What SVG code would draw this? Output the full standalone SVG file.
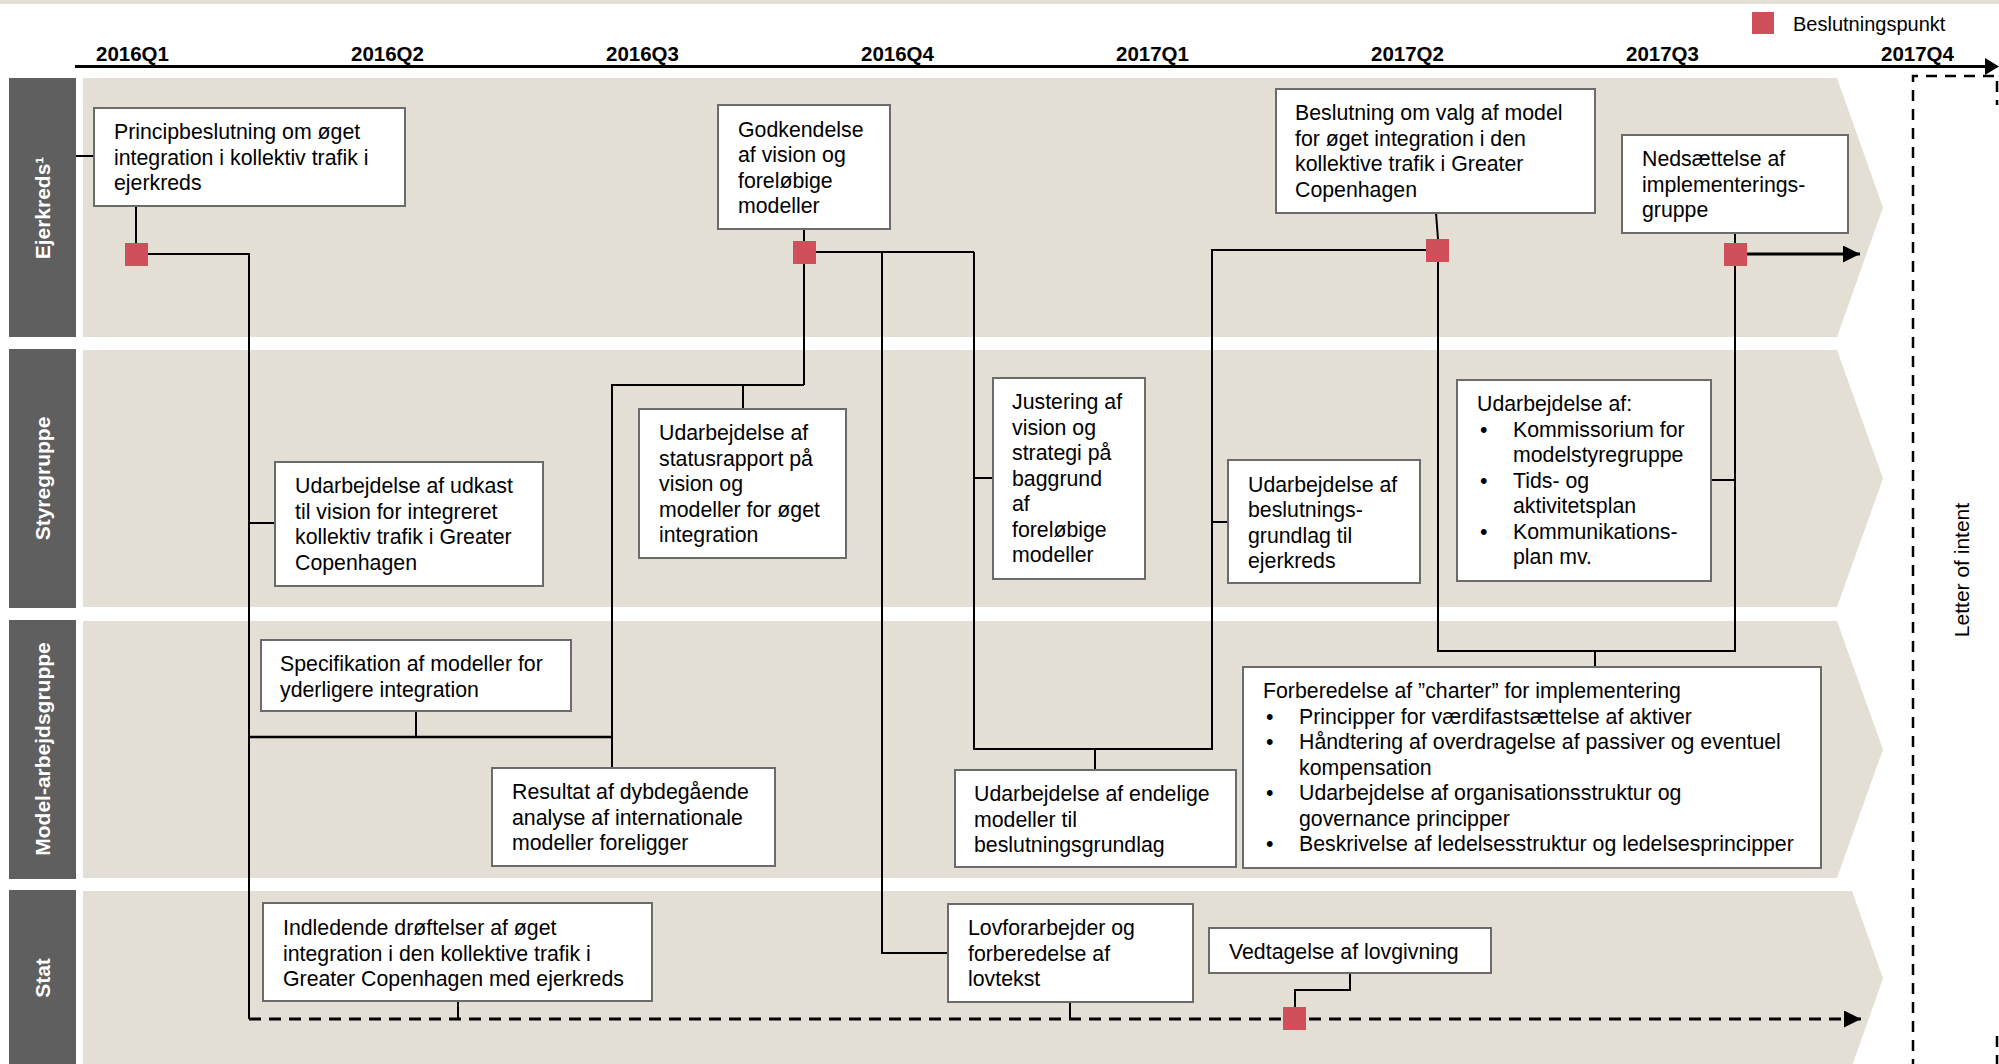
<svg xmlns="http://www.w3.org/2000/svg" width="1999" height="1064" viewBox="0 0 1999 1064">
  <defs>
    <style>
      .lane { fill: #E3DFD5; }
      .tag { fill: #5F5F5F; }
      .tagtxt { font-family: "Liberation Sans", Arial, sans-serif; font-weight: bold; font-size: 21px; fill: #fff; text-anchor: middle; }
      .box { fill: #fff; stroke: #6B6B6B; stroke-width: 2; }
      .t { font-family: "Liberation Sans", Arial, sans-serif; font-size: 21.3px; fill: #000; }
      .q { font-family: "Liberation Sans", Arial, sans-serif; font-size: 20.5px; font-weight: bold; fill: #000; }
      .ln { stroke: #000; stroke-width: 2; fill: none; }
      .dash { stroke: #000; stroke-width: 3; fill: none; stroke-dasharray: 12 8; }
      .frame { fill: none; stroke: #000; stroke-width: 2.5; stroke-dasharray: 11 8; }
      .dp { fill: #CF4F5A; }
    </style>
    <marker id="ah" viewBox="0 0 16 16" refX="16" refY="8" markerWidth="17" markerHeight="17" markerUnits="userSpaceOnUse" orient="auto">
      <path d="M0,0 L16,8 L0,16 Z" fill="#000"/>
    </marker>
  </defs>

  <rect width="1999" height="1064" fill="#fff"/>
  <rect x="0" y="0" width="1999" height="4" class="lane"/>

  <!-- time axis -->
  <g id="axis">
    <line x1="75" y1="66.5" x2="1990" y2="66.5" stroke="#000" stroke-width="3"/>
    <polygon points="1985,58 1999,66.5 1985,75" fill="#000"/>
    <text class="q" x="96" y="61">2016Q1</text>
    <text class="q" x="351" y="61">2016Q2</text>
    <text class="q" x="606" y="61">2016Q3</text>
    <text class="q" x="861" y="61">2016Q4</text>
    <text class="q" x="1116" y="61">2017Q1</text>
    <text class="q" x="1371" y="61">2017Q2</text>
    <text class="q" x="1626" y="61">2017Q3</text>
    <text class="q" x="1881" y="61">2017Q4</text>
  </g>

  <!-- legend -->
  <g id="legend">
    <rect class="dp" x="1752" y="12" width="22" height="22"/>
    <text class="t" x="1793" y="31" style="font-size:20px">Beslutningspunkt</text>
  </g>

  <!-- swimlanes -->
  <g id="lanes">
    <polygon class="lane" points="83,78 1837,78 1883,207.5 1837,337 83,337"/>
    <polygon class="lane" points="83,350 1837,350 1883,478.5 1837,607 83,607"/>
    <polygon class="lane" points="83,621 1837,621 1883,749.5 1837,878 83,878"/>
    <polygon class="lane" points="83,891 1852,891 1883,978.5 1852,1066 83,1066"/>
    <rect class="tag" x="9" y="78" width="67" height="259"/>
    <rect class="tag" x="9" y="349" width="67" height="259"/>
    <rect class="tag" x="9" y="620" width="67" height="259"/>
    <rect class="tag" x="9" y="890" width="67" height="176"/>
    <text class="tagtxt" transform="translate(50,208) rotate(-90)">Ejerkreds¹</text>
    <text class="tagtxt" transform="translate(50,478.5) rotate(-90)">Styregruppe</text>
    <text class="tagtxt" transform="translate(50,749) rotate(-90)">Model-arbejdsgruppe</text>
    <text class="tagtxt" transform="translate(50,978) rotate(-90)">Stat</text>
  </g>

  <!-- letter of intent frame: right edge only shows near the corners -->
  <g id="letter-of-intent">
    <path class="frame" d="M1913,1070 L1913,76 L1997,76 L1997,105"/>
    <path class="frame" d="M1997,1036 L1997,1070"/>
    <text class="t" transform="translate(1969,570) rotate(-90)" text-anchor="middle" style="font-size:21px">Letter of intent</text>
  </g>

  <!-- connectors -->
  <g id="connectors">
    <line class="ln" x1="76" y1="156" x2="94" y2="156"/>
    <line class="ln" x1="136" y1="206" x2="136" y2="243"/>
    <polyline class="ln" points="148,254 249,254 249,1019"/>
    <line class="ln" x1="249" y1="523" x2="275" y2="523"/>
    <line class="ln" x1="249" y1="737" x2="612" y2="737" style="stroke-width:2.5"/>
    <line class="ln" x1="416" y1="711" x2="416" y2="737"/>
    <polyline class="ln" points="612,769 612,385 804,385"/>
    <line class="ln" x1="743" y1="385" x2="743" y2="409"/>
    <line class="ln" x1="804" y1="229" x2="804" y2="241"/>
    <line class="ln" x1="804" y1="264" x2="804" y2="385"/>
    <line class="ln" x1="816" y1="252" x2="974" y2="252"/>
    <polyline class="ln" points="882,252 882,953 948,953"/>
    <polyline class="ln" points="974,252 974,749 1212,749 1212,250 1426,250"/>
    <line class="ln" x1="974" y1="478" x2="993" y2="478"/>
    <line class="ln" x1="1095" y1="749" x2="1095" y2="770"/>
    <line class="ln" x1="1212" y1="522" x2="1228" y2="522"/>
    <line class="ln" x1="1436" y1="213" x2="1438" y2="239"/>
    <polyline class="ln" points="1438,262 1438,651 1735,651 1735,266"/>
    <line class="ln" x1="1595" y1="651" x2="1595" y2="667"/>
    <line class="ln" x1="1735" y1="233" x2="1735" y2="243"/>
    <line class="ln" x1="1711" y1="480" x2="1735" y2="480"/>
    <line x1="1747" y1="254" x2="1860" y2="254" stroke="#000" stroke-width="3" marker-end="url(#ah)"/>
    <line class="dash" x1="249" y1="1019" x2="1861" y2="1019" marker-end="url(#ah)"/>
    <line class="ln" x1="458" y1="1001" x2="458" y2="1019"/>
    <line class="ln" x1="1070" y1="1002" x2="1070" y2="1019"/>
    <polyline class="ln" points="1295,1007 1295,990 1350,990 1350,973"/>
  </g>

  <!-- decision points -->
  <g id="decision-points">
    <rect class="dp" x="125" y="243" width="23" height="23"/>
    <rect class="dp" x="793" y="241" width="23" height="23"/>
    <rect class="dp" x="1426" y="239" width="23" height="23"/>
    <rect class="dp" x="1724" y="243" width="23" height="23"/>
    <rect class="dp" x="1283" y="1007" width="23" height="23"/>
  </g>

  <!-- Ejerkreds -->
  <g id="principbeslutning">
    <rect class="box" x="94" y="108" width="311" height="98"/>
    <text class="t" x="114" y="139">Principbeslutning om øget</text>
    <text class="t" x="114" y="164.5">integration i kollektiv trafik i</text>
    <text class="t" x="114" y="190">ejerkreds</text>
  </g>
  <g id="godkendelse">
    <rect class="box" x="718" y="105" width="172" height="124"/>
    <text class="t" x="738" y="136.5">Godkendelse</text>
    <text class="t" x="738" y="162">af vision og</text>
    <text class="t" x="738" y="187.5">foreløbige</text>
    <text class="t" x="738" y="213">modeller</text>
  </g>
  <g id="beslutning-model">
    <rect class="box" x="1276" y="89" width="319" height="124"/>
    <text class="t" x="1295" y="120">Beslutning om valg af model</text>
    <text class="t" x="1295" y="145.5">for øget integration i den</text>
    <text class="t" x="1295" y="171">kollektive trafik i Greater</text>
    <text class="t" x="1295" y="196.5">Copenhagen</text>
  </g>
  <g id="nedsaettelse">
    <rect class="box" x="1622" y="135" width="226" height="98"/>
    <text class="t" x="1642" y="166">Nedsættelse af</text>
    <text class="t" x="1642" y="191.5">implementerings-</text>
    <text class="t" x="1642" y="217">gruppe</text>
  </g>

  <!-- Styregruppe -->
  <g id="udkast-vision">
    <rect class="box" x="275" y="462" width="268" height="124"/>
    <text class="t" x="295" y="493">Udarbejdelse af udkast</text>
    <text class="t" x="295" y="518.5">til vision for integreret</text>
    <text class="t" x="295" y="544">kollektiv trafik i Greater</text>
    <text class="t" x="295" y="569.5">Copenhagen</text>
  </g>
  <g id="statusrapport">
    <rect class="box" x="639" y="409" width="207" height="149"/>
    <text class="t" x="659" y="440">Udarbejdelse af</text>
    <text class="t" x="659" y="465.5">statusrapport på</text>
    <text class="t" x="659" y="491">vision og</text>
    <text class="t" x="659" y="516.5">modeller for øget</text>
    <text class="t" x="659" y="542">integration</text>
  </g>
  <g id="justering">
    <rect class="box" x="993" y="378" width="152" height="201"/>
    <text class="t" x="1012" y="409">Justering af</text>
    <text class="t" x="1012" y="434.5">vision og</text>
    <text class="t" x="1012" y="460">strategi på</text>
    <text class="t" x="1012" y="485.5">baggrund</text>
    <text class="t" x="1012" y="511">af</text>
    <text class="t" x="1012" y="536.5">foreløbige</text>
    <text class="t" x="1012" y="562">modeller</text>
  </g>
  <g id="beslutningsgrundlag">
    <rect class="box" x="1228" y="460" width="192" height="123"/>
    <text class="t" x="1248" y="491.5">Udarbejdelse af</text>
    <text class="t" x="1248" y="517">beslutnings-</text>
    <text class="t" x="1248" y="542.5">grundlag til</text>
    <text class="t" x="1248" y="568">ejerkreds</text>
  </g>
  <g id="kommissorium">
    <rect class="box" x="1457" y="380" width="254" height="201"/>
    <text class="t" x="1477" y="411">Udarbejdelse af:</text>
    <text class="t" x="1480" y="436.5">•</text>
    <text class="t" x="1513" y="436.5">Kommissorium for</text>
    <text class="t" x="1513" y="462">modelstyregruppe</text>
    <text class="t" x="1480" y="487.5">•</text>
    <text class="t" x="1513" y="487.5">Tids- og</text>
    <text class="t" x="1513" y="513">aktivitetsplan</text>
    <text class="t" x="1480" y="538.5">•</text>
    <text class="t" x="1513" y="538.5">Kommunikations-</text>
    <text class="t" x="1513" y="564">plan mv.</text>
  </g>

  <!-- Model-arbejdsgruppe -->
  <g id="specifikation">
    <rect class="box" x="261" y="640" width="310" height="71"/>
    <text class="t" x="280" y="671">Specifikation af modeller for</text>
    <text class="t" x="280" y="696.5">yderligere integration</text>
  </g>
  <g id="resultat">
    <rect class="box" x="492" y="768" width="283" height="98"/>
    <text class="t" x="512" y="799">Resultat af dybdegående</text>
    <text class="t" x="512" y="824.5">analyse af internationale</text>
    <text class="t" x="512" y="850">modeller foreligger</text>
  </g>
  <g id="endelige-modeller">
    <rect class="box" x="955" y="770" width="281" height="97"/>
    <text class="t" x="974" y="801">Udarbejdelse af endelige</text>
    <text class="t" x="974" y="826.5">modeller til</text>
    <text class="t" x="974" y="852">beslutningsgrundlag</text>
  </g>
  <g id="charter">
    <rect class="box" x="1243" y="667" width="578" height="201"/>
    <text class="t" x="1263" y="698">Forberedelse af ”charter” for implementering</text>
    <text class="t" x="1266" y="723.5">•</text>
    <text class="t" x="1299" y="723.5">Principper for værdifastsættelse af aktiver</text>
    <text class="t" x="1266" y="749">•</text>
    <text class="t" x="1299" y="749">Håndtering af overdragelse af passiver og eventuel</text>
    <text class="t" x="1299" y="774.5">kompensation</text>
    <text class="t" x="1266" y="800">•</text>
    <text class="t" x="1299" y="800">Udarbejdelse af organisationsstruktur og</text>
    <text class="t" x="1299" y="825.5">governance principper</text>
    <text class="t" x="1266" y="851">•</text>
    <text class="t" x="1299" y="851">Beskrivelse af ledelsesstruktur og ledelsesprincipper</text>
  </g>

  <!-- Stat -->
  <g id="indledende">
    <rect class="box" x="263" y="903" width="389" height="98"/>
    <text class="t" x="283" y="935">Indledende drøftelser af øget</text>
    <text class="t" x="283" y="960.5">integration i den kollektive trafik i</text>
    <text class="t" x="283" y="986">Greater Copenhagen med ejerkreds</text>
  </g>
  <g id="lovforarbejder">
    <rect class="box" x="948" y="904" width="245" height="98"/>
    <text class="t" x="968" y="935">Lovforarbejder og</text>
    <text class="t" x="968" y="960.5">forberedelse af</text>
    <text class="t" x="968" y="986">lovtekst</text>
  </g>
  <g id="vedtagelse">
    <rect class="box" x="1209" y="928" width="282" height="45"/>
    <text class="t" x="1229" y="959">Vedtagelse af lovgivning</text>
  </g>
</svg>
